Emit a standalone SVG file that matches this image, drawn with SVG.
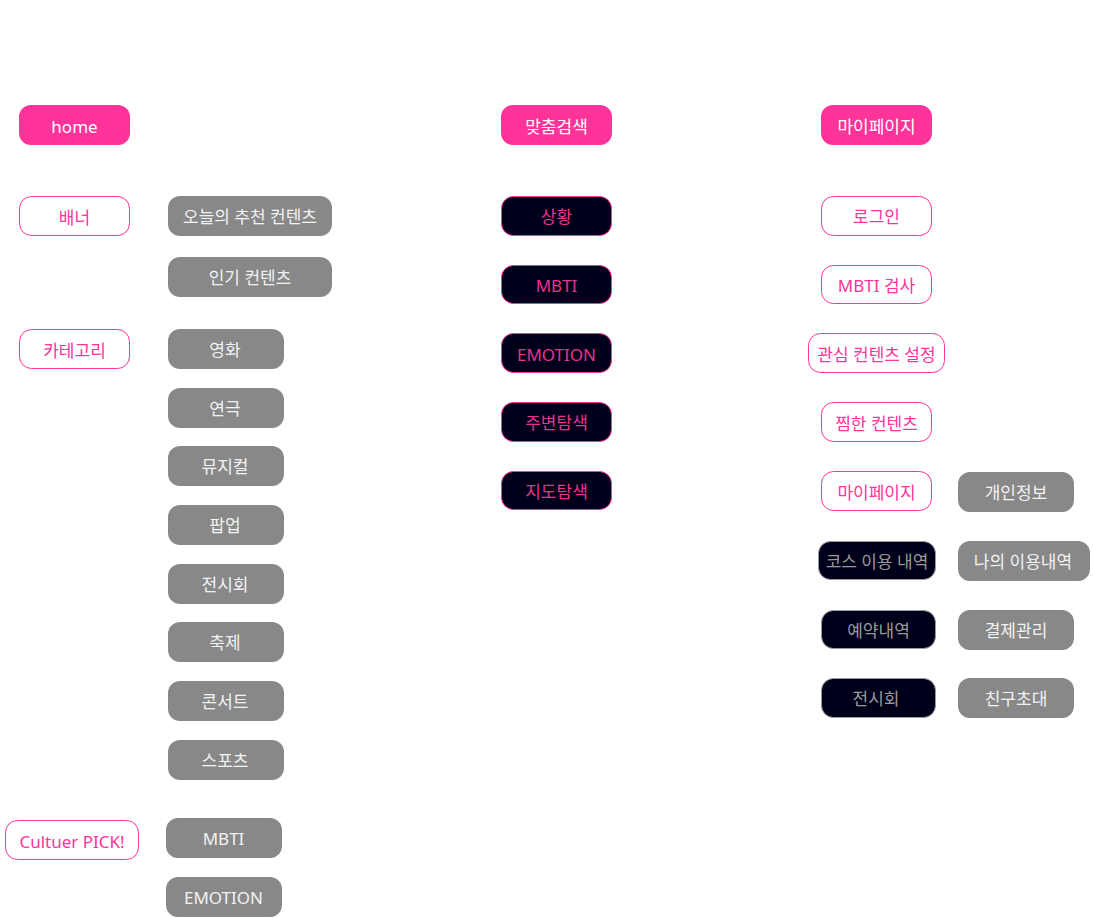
<svg xmlns="http://www.w3.org/2000/svg" width="1093" height="918" viewBox="0 0 1093 918">
<style>
text{font-family:"Noto Sans","Noto Sans CJK KR",sans-serif;font-size:17px;text-anchor:middle;dominant-baseline:central}
.p rect{fill:#ff3399}
.p text{fill:#ffffff}
.o rect{fill:#ffffff;stroke:#ff3399;stroke-width:1}
.o text{fill:#ff3399}
.g rect{fill:#888888}
.g text{fill:#f2f2f2}
.d rect{fill:#00001a;stroke:#ff3399;stroke-width:1}
.d text{fill:#e8338b}
.k rect{fill:#00001a;stroke:#9a9a9a;stroke-width:1}
.k text{fill:#9a9a9a}
</style>
<rect width="1093" height="918" fill="#ffffff"/>
<g id="connectors"></g>
<g id="home" class="p"><rect x="19" y="105" width="111" height="40" rx="12"/><text x="74.5" y="126">home</text></g>
<g id="banner" class="o"><rect x="19.5" y="196.5" width="110" height="39" rx="12"/><text x="74.5" y="217">배너</text></g>
<g id="today" class="g"><rect x="168" y="196" width="164" height="40" rx="12"/><text x="250" y="216">오늘의 추천 컨텐츠</text></g>
<g id="popular" class="g"><rect x="168" y="257" width="164" height="40" rx="12"/><text x="250" y="277">인기 컨텐츠</text></g>
<g id="category" class="o"><rect x="19.5" y="329.5" width="110" height="39" rx="12"/><text x="74.5" y="350">카테고리</text></g>
<g id="movie" class="g"><rect x="168" y="329" width="116" height="40" rx="12"/><text x="225" y="349">영화</text></g>
<g id="play" class="g"><rect x="168" y="388" width="116" height="40" rx="12"/><text x="225" y="408">연극</text></g>
<g id="musical" class="g"><rect x="168" y="446" width="116" height="40" rx="12"/><text x="225" y="466">뮤지컬</text></g>
<g id="popup" class="g"><rect x="168" y="505" width="116" height="40" rx="12"/><text x="225" y="525">팝업</text></g>
<g id="exhibit" class="g"><rect x="168" y="564" width="116" height="40" rx="12"/><text x="225" y="584">전시회</text></g>
<g id="festival" class="g"><rect x="168" y="622" width="116" height="40" rx="12"/><text x="225" y="642">축제</text></g>
<g id="concert" class="g"><rect x="168" y="681" width="116" height="40" rx="12"/><text x="225" y="701">콘서트</text></g>
<g id="sports" class="g"><rect x="168" y="740" width="116" height="40" rx="12"/><text x="225" y="760">스포츠</text></g>
<g id="pick" class="o"><rect x="5.5" y="820.5" width="133" height="39" rx="12"/><text x="72" y="841">Cultuer PICK!</text></g>
<g id="pick-mbti" class="g"><rect x="166" y="818" width="116" height="40" rx="12"/><text x="223.5" y="838">MBTI</text></g>
<g id="pick-emotion" class="g"><rect x="166" y="877" width="116" height="40" rx="12"/><text x="223.5" y="897">EMOTION</text></g>
<g id="search" class="p"><rect x="501" y="105" width="111" height="40" rx="12"/><text x="556.5" y="126">맞춤검색</text></g>
<g id="situation" class="d"><rect x="501.5" y="196.5" width="110" height="39" rx="12"/><text x="556.5" y="216">상황</text></g>
<g id="s-mbti" class="d"><rect x="501.5" y="265.5" width="110" height="38" rx="12"/><text x="556.5" y="285">MBTI</text></g>
<g id="s-emotion" class="d"><rect x="501.5" y="333.5" width="110" height="39" rx="12"/><text x="556.5" y="354">EMOTION</text></g>
<g id="nearby" class="d"><rect x="501.5" y="402.5" width="110" height="39" rx="12"/><text x="556.5" y="422">주변탐색</text></g>
<g id="map" class="d"><rect x="501.5" y="471.5" width="110" height="38" rx="12"/><text x="556.5" y="491">지도탐색</text></g>
<g id="mypage" class="p"><rect x="821" y="105" width="111" height="40" rx="12"/><text x="876.5" y="126">마이페이지</text></g>
<g id="login" class="o"><rect x="821.5" y="196.5" width="110" height="39" rx="12"/><text x="876.5" y="216">로그인</text></g>
<g id="mbti-test" class="o"><rect x="821.5" y="265.5" width="110" height="38" rx="12"/><text x="876.5" y="285">MBTI 검사</text></g>
<g id="interest" class="o"><rect x="808.5" y="333.5" width="136" height="39" rx="12"/><text x="876.5" y="354">관심 컨텐츠 설정</text></g>
<g id="liked" class="o"><rect x="821.5" y="402.5" width="110" height="39" rx="12"/><text x="876.5" y="423">찜한 컨텐츠</text></g>
<g id="mypage2" class="o"><rect x="821.5" y="471.5" width="110" height="39" rx="12"/><text x="876.5" y="492">마이페이지</text></g>
<g id="personal" class="g"><rect x="958" y="472" width="116" height="40" rx="12"/><text x="1016" y="492">개인정보</text></g>
<g id="course" class="k"><rect x="818.5" y="541.5" width="117" height="38" rx="12"/><text x="877" y="561">코스 이용 내역</text></g>
<g id="myuse" class="g"><rect x="958" y="541" width="132" height="40" rx="12"/><text x="1023" y="561">나의 이용내역</text></g>
<g id="reserve" class="k"><rect x="821.5" y="610.5" width="114" height="38" rx="12"/><text x="878.5" y="630">예약내역</text></g>
<g id="payment" class="g"><rect x="958" y="610" width="116" height="40" rx="12"/><text x="1016" y="630">결제관리</text></g>
<g id="exhibit2" class="k"><rect x="821.5" y="678.5" width="114" height="39" rx="12"/><text x="876" y="698">전시회</text></g>
<g id="invite" class="g"><rect x="958" y="678" width="116" height="40" rx="12"/><text x="1016" y="698">친구초대</text></g>
</svg>
